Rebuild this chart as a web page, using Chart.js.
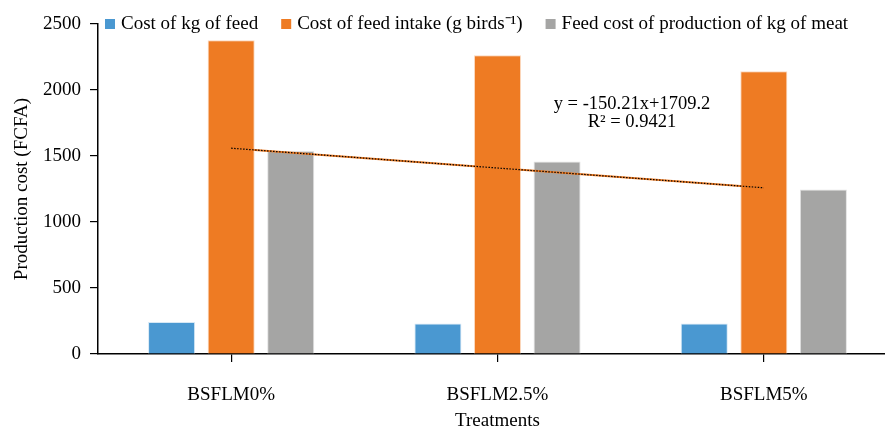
<!DOCTYPE html>
<html>
<head>
<meta charset="utf-8">
<script src="https://cdn.jsdelivr.net/npm/chart.js@4.4.0/dist/chart.umd.min.js"></script>
<style>
  html, body { margin: 0; padding: 0; background: #fff; overflow: hidden; }
  #wrap { width: 897px; height: 427px; }
</style>
</head>
<body>
<div id="wrap"><canvas id="costChart"></canvas></div>
<script>
// Daten
const treatments = ['BSFLM0%', 'BSFLM2.5%', 'BSFLM5%'];
const costKgFeed = [242, 232, 232];
const costFeedIntake = [2377, 2263, 2142];
const costKgMeat = [1537, 1459, 1247];
const trendValues = [1559, 1409, 1259];
const yTicks = [0, 500, 1000, 1500, 2000, 2500];
const trendLabel = ['y = -150.21x+1709.2', 'R² = 0.9421'];

const serif = "'Liberation Serif', 'Times New Roman', serif";

// eigene Legende, liegt oben in der Zeichenfläche
const topLegend = {
    id: 'topLegend',
    afterDraw(chart) {
        const ctx = chart.ctx;
        ctx.save();
        ctx.font = '19px ' + serif;
        ctx.textBaseline = 'middle';
        let x = 105;
        const y = 24;
        chart.data.datasets.forEach(ds => {
            if (ds.type !== 'bar') return;
            ctx.fillStyle = ds.backgroundColor;
            ctx.fillRect(x, y - 5, 10, 10);
            x += 16;
            ctx.fillStyle = '#000';
            ctx.fillText(ds.label, x, y);
            x += ctx.measureText(ds.label).width + 23;
        });
        ctx.restore();
    }
};

// Gleichung der Trendlinie
const trendText = {
    id: 'trendText',
    afterDraw(chart) {
        const ctx = chart.ctx;
        ctx.save();
        ctx.font = '18.5px ' + serif;
        ctx.fillStyle = '#000';
        ctx.textAlign = 'center';
        ctx.textBaseline = 'middle';
        ctx.fillText(trendLabel[0], 632, 104);
        ctx.fillText(trendLabel[1], 632, 122);
        ctx.restore();
    }
};

const ctx = document.getElementById('costChart').getContext('2d');
new Chart(ctx, {
    data: {
        labels: treatments,
        datasets: [
            {
                type: 'bar',
                label: 'Cost of kg of feed',
                data: costKgFeed,
                backgroundColor: '#4a98d1',
                borderColor: '#d6e8f5',
                borderWidth: 1,
                order: 3
            },
            {
                type: 'bar',
                label: 'Cost of feed intake (g birds⁻¹)',
                data: costFeedIntake,
                backgroundColor: '#ee7b23',
                borderColor: '#fbd9bf',
                borderWidth: 1,
                order: 3
            },
            {
                type: 'bar',
                label: 'Feed cost of production of kg of meat',
                data: costKgMeat,
                backgroundColor: '#a5a5a4',
                borderColor: '#e2e2e2',
                borderWidth: 1,
                order: 3
            },
            {
                type: 'line',
                label: 'trend',
                data: trendValues,
                borderColor: '#ee7b23',
                borderWidth: 2,
                pointRadius: 0,
                tension: 0,
                order: 2
            },
            {
                type: 'line',
                label: 'trend2',
                data: trendValues,
                borderColor: '#000',
                borderWidth: 1.2,
                borderDash: [1.5, 1.5],
                pointRadius: 0,
                tension: 0,
                order: 1
            }
        ]
    },
    options: {
        responsive: true,
        maintainAspectRatio: false,
        animation: false,
        layout: { padding: { top: 24, left: 0, right: 0, bottom: 0 } },
        categoryPercentage: 0.671,
        barPercentage: 0.79,
        plugins: {
            legend: { display: false },
            tooltip: { enabled: false }
        },
        scales: {
            x: {
                grid: { display: true, offset: false, drawOnChartArea: false, drawTicks: true, tickLength: 8, color: '#000', lineWidth: 1.2 },
                border: { display: true, color: '#000', width: 1.5 },
                ticks: { color: '#000', font: { family: serif, size: 19 }, padding: 22 },
                title: { display: true, text: 'Treatments', color: '#000', font: { family: serif, size: 19, lineHeight: 0.6 }, padding: { top: 0, bottom: 0 } },
                afterFit(scale) { scale.height = 73; }
            },
            y: {
                min: 0,
                max: 2500,
                afterBuildTicks(scale) { scale.ticks = yTicks.map(v => ({ value: v })); },
                grid: { drawOnChartArea: false, drawTicks: true, tickLength: 8, color: '#000', lineWidth: 1.2 },
                border: { display: true, color: '#000', width: 1.5 },
                ticks: { color: '#000', font: { family: serif, size: 19 }, padding: 9, callback: v => String(v) },
                title: { display: true, text: 'Production cost (FCFA)', color: '#000', font: { family: serif, size: 19 }, padding: { top: 11, bottom: 0 } },
                afterFit(scale) { scale.width = 98; }
            }
        }
    },
    plugins: [topLegend, trendText]
});
</script>
</body>
</html>
